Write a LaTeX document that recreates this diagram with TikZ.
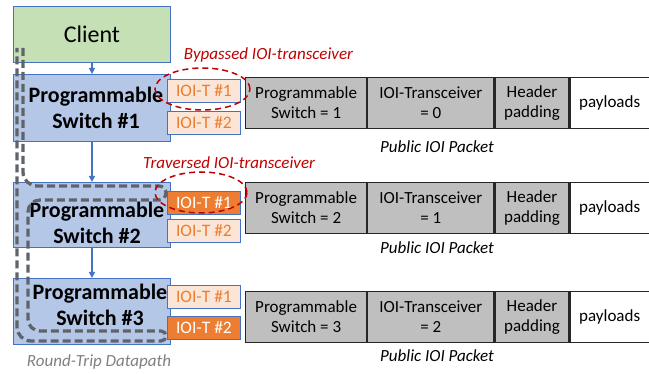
\documentclass[tikz,border=0pt]{standalone}
\usepackage{fontspec}
\setmainfont{Carlito}
\usetikzlibrary{shapes.geometric,arrows.meta}
\definecolor{clientgreen}{RGB}{197,224,180}
\definecolor{switchblue}{RGB}{180,199,231}
\definecolor{edgeblue}{RGB}{68,114,196}
\definecolor{ioilight}{RGB}{251,229,214}
\definecolor{ioiorange}{RGB}{237,125,49}
\definecolor{cellgray}{RGB}{191,191,191}
\definecolor{cellline}{RGB}{38,38,38}
\definecolor{pathgray}{RGB}{96,100,106}
\definecolor{markred}{RGB}{192,0,0}
\definecolor{notegray}{RGB}{128,128,128}

\begin{document}
\begin{tikzpicture}[x=1pt, y=-1pt,
		box/.style={draw=edgeblue, line width=0.9pt, inner sep=0pt, anchor=north west},
		swbox/.style={box, fill=switchblue, minimum width=157pt},
		swtext/.style={font=\fontsize{22}{26}\selectfont\bfseries, align=center, inner sep=0pt},
		ioi/.style={box, minimum width=73pt, minimum height=23pt, font=\fontsize{17.5}{20}\selectfont},
		ioioff/.style={ioi, fill=ioilight, text=ioiorange},
		ioion/.style={ioi, fill=ioiorange, text=white},
		cell/.style={draw=cellline, line width=1.2pt, fill=cellgray, minimum height=51pt, inner sep=0pt,
			anchor=north west, align=center, font=\fontsize{17}{20}\selectfont},
		flow/.style={draw=edgeblue, line width=1.3pt, -{Triangle[length=6pt,width=6pt]}},
		trip/.style={draw=pathgray, line width=3.3pt, dash pattern=on 8pt off 4pt},
		hoop/.style={ellipse, draw=markred, line width=1.5pt, dash pattern=on 6pt off 4pt, inner sep=0pt},
		note/.style={inner sep=0pt, font=\fontsize{17}{20}\selectfont\itshape}]
		\useasboundingbox (0,0) rectangle (649,374);
		% Paths, nodes and wires:
		\node[box, fill=clientgreen, minimum width=157pt, minimum height=56pt, font=\fontsize{24}{28}\selectfont] (client) at (13,6) {Client};
		\node[swbox, minimum height=67pt] (sw1) at (13,74) {};
		\node[swbox, minimum height=65pt] (sw2) at (13,182) {};
		\node[swbox, minimum height=66pt] (sw3) at (13,278) {};
		\node[swtext] (sw1txt) at (96,108) {Programmable\\Switch \#1};
		\node[swtext] (sw2txt) at (97,223) {Programmable\\Switch \#2};
		\node[swtext] (sw3txt) at (100,305) {Programmable\\Switch \#3};
		\draw[flow] (client) -- (sw1);
		\draw[flow] (sw1) -- (sw2);
		\draw[flow] (sw2) -- (sw3);
		\node[ioioff] (t11) at (167,79) {IOI-T \#1};
		\node[ioioff] (t12) at (167,111) {IOI-T \#2};
		\node[ioion] (t21) at (167,191) {IOI-T \#1};
		\node[ioioff] (t22) at (167,219) {IOI-T \#2};
		\node[ioioff] (t31) at (167,285) {IOI-T \#1};
		\node[ioion] (t32) at (167,316) {IOI-T \#2};
		\foreach \r/\y/\v/\c in {1/77/0/147, 2/182/1/248, 3/291/2/356}{
			\node[cell, minimum width=121pt] (pkt\r sw) at (245,\y) {Programmable\\Switch = \r};
			\node[cell, minimum width=126pt] (pkt\r ioi) at (pkt\r sw.north east) {IOI-Transceiver\\= \v};
			\node[cell, minimum width=74pt] (pkt\r pad) at (pkt\r ioi.north east) {Header\\padding};
			\node[cell, minimum width=79pt, fill=white] (pkt\r pl) at (pkt\r pad.north east) {payloads};
			\node[note] (pkt\r cap) at (437,\c) {Public IOI Packet};
		}
		\draw[trip] (23,48) [rounded corners=14pt] -- (23,186) [rounded corners=7pt] -- (166,186) -- (166,200) [rounded corners=12pt] -- (28,200) -- (28,331) [rounded corners=5pt] -- (166,331) -- (166,341) [rounded corners=14pt] -- (17,341) -- (17,48);
		\node[note, text=notegray] (triplbl) at (99,362) {Round-Trip Datapath};
		\node[hoop, minimum width=95pt, minimum height=42pt] (byp) at (202.5,89) {};
		\node[hoop, minimum width=92pt, minimum height=41pt] (trv) at (201,192.5) {};
		\node[note, text=markred] (bylbl) at (268.5,55) {Bypassed IOI-transceiver};
		\node[note, text=markred] (trlbl) at (229,163) {Traversed IOI-transceiver};
	\end{tikzpicture}
\end{document}
